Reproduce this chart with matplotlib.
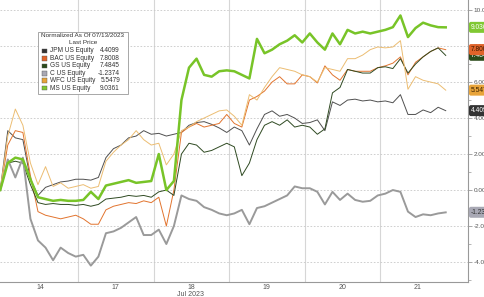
import numpy as np
import matplotlib
matplotlib.use("Agg")
import matplotlib.pyplot as plt
from matplotlib.patches import Rectangle

plt.rcParams["font.family"] = ["Liberation Sans", "DejaVu Sans"]

# normalized intraday moves, 13 Jul - 21 Jul 2023 (6 sessions, 10 samples each)
days = ["14", "17", "18", "19", "20", "21"]
t = np.arange(60) / 10 - 0.03

ms = [0.0, 1.5, 1.8, 1.7, 0.6, -0.4, -0.5, -0.6, -0.55, -0.6,
      -0.6, -0.55, -0.1, -0.5, 0.25, 0.35, 0.45, 0.55, 0.4, 0.45,
      0.5, 2.0, 0.0, 0.5, 5.0, 6.8, 7.3, 6.4, 6.3, 6.6,
      6.65, 6.6, 6.4, 6.2, 8.4, 7.6, 7.8, 8.1, 8.3, 8.6,
      8.2, 8.7, 8.2, 7.8, 8.7, 8.1, 8.9, 8.7, 8.8, 8.7,
      8.8, 8.9, 9.05, 9.7, 8.5, 9.0, 9.3, 9.15, 9.05, 9.04]

c = [0.0, 1.7, 0.7, 1.8, -1.6, -2.8, -3.2, -3.9, -3.2, -3.5,
     -3.7, -3.6, -4.2, -3.7, -2.4, -2.3, -2.1, -1.8, -1.5, -2.5,
     -2.5, -2.2, -3.0, -2.0, -0.3, -0.5, -0.6, -0.95, -1.1, -1.3,
     -1.4, -1.3, -1.1, -1.9, -1.0, -0.9, -0.7, -0.5, -0.3, 0.2,
     0.1, 0.1, -0.1, -0.8, -0.1, -0.55, -0.2, -0.55, -0.65, -0.6,
     -0.3, -0.2, 0.0, -0.1, -1.2, -1.5, -1.35, -1.4, -1.3, -1.24]

jpm = [0.0, 3.3, 2.9, 2.8, 0.6, -0.3, 0.15, 0.3, 0.45, 0.5,
       0.6, 0.6, 0.55, 0.7, 1.8, 2.3, 2.5, 2.9, 3.0, 3.3,
       3.1, 3.15, 3.0, 3.1, 3.2, 3.6, 3.75, 3.8, 3.65, 3.45,
       3.2, 3.5, 3.3, 2.5, 3.4, 4.2, 4.4, 4.1, 4.2, 4.0,
       3.7, 3.75, 3.9, 3.3, 4.9, 4.7, 5.0, 5.05, 4.95, 5.0,
       4.9, 4.95, 4.85, 5.3, 4.2, 4.2, 4.45, 4.3, 4.6, 4.41]

gs = [0.0, 1.5, 1.6, 1.5, 0.3, -0.7, -0.8, -0.75, -0.8, -0.8,
      -0.85, -0.8, -0.9, -0.8, -0.5, -0.45, -0.4, -0.3, -0.35, -0.3,
      -0.4, -0.1, 0.0, -0.3, 2.0, 2.6, 2.5, 2.1, 2.2, 2.4,
      2.6, 2.4, 0.8, 1.5, 2.8, 3.6, 3.8, 3.6, 3.9, 3.5,
      3.6, 3.5, 3.1, 3.4, 5.4, 5.7, 6.7, 6.6, 6.5, 6.5,
      6.8, 6.85, 6.75, 7.3, 6.5, 7.0, 7.4, 7.7, 7.9, 7.48]

bac = [0.0, 2.5, 3.3, 3.2, 0.8, -1.2, -1.4, -1.5, -1.6, -1.5,
       -1.4, -1.6, -1.9, -1.9, -1.1, -0.9, -0.8, -0.7, -0.75, -0.6,
       -0.7, -0.4, -2.0, 0.0, 3.2, 3.5, 3.7, 3.5, 3.6, 3.7,
       4.2, 3.7, 3.5, 5.0, 5.2, 5.5, 6.0, 6.3, 5.9, 5.9,
       6.4, 6.3, 5.95, 6.9, 6.4, 6.1, 6.7, 6.6, 6.6, 6.6,
       6.8, 6.9, 7.05, 7.4, 6.4, 7.1, 7.4, 7.7, 7.9, 7.8]

wfc = [0.0, 3.0, 4.5, 3.6, 1.5, 0.3, 1.3, 0.2, 0.4, 0.1,
       0.2, 0.3, 0.1, 0.2, 1.6, 2.1, 2.5, 2.8, 3.3, 2.8,
       2.5, 2.6, 1.4, 2.0, 3.3, 3.5, 3.8, 4.0, 4.2, 4.4,
       4.45, 4.1, 3.6, 5.3, 5.0, 5.7, 6.3, 6.8, 6.7, 6.6,
       6.4, 6.3, 6.0, 6.8, 6.7, 6.6, 7.3, 7.3, 7.5, 7.8,
       7.95, 7.9, 7.95, 8.3, 5.6, 6.3, 6.1, 6.0, 5.9, 5.55]

names = ["JPM US Equity", "BAC US Equity", "GS US Equity",
         "C US Equity", "WFC US Equity", "MS US Equity"]
last = ["4.4099", "7.8008", "7.4845", "-1.2374", "5.5479", "9.0361"]
tags = ["4.409", "7.800", "7.484", "-1.23", "5.547", "9.036"]
tag_vals = [4.4099, 7.8008, 7.4845, -1.2374, 5.5479, 9.0361]

line_cols = ["#505050", "#e2742e", "#2f4a22", "#9a9a9a", "#ecbd72", "#78c428"]
box_cols = ["#333333", "#e0632a", "#2a4a1a", "#a8a8b4", "#e8a43a", "#80c832"]
tag_text = ["white", "#3a1a00", "white", "#333333", "#3a2000", "white"]
widths = [0.7, 0.7, 0.7, 1.4, 0.7, 1.8]

W, H = 485, 297
fig = plt.figure(figsize=(W / 100, H / 100), dpi=100)
ax = fig.add_axes([0, 15 / H, 468 / W, 282 / H])

# day separators and dashed horizontal grid
for d in range(1, 6):
    ax.axvline(d, color="#d6d6d6", lw=0.8, zorder=0)
for yv in range(-4, 11, 2):
    ax.axhline(yv, color="#c8c8c8", lw=0.6, ls=(0, (2, 2)), zorder=0)

series = [jpm, bac, gs, c, wfc, ms]
order = [4, 1, 0, 2, 3, 5]
for k in order:
    ax.plot(t, series[k], color=line_cols[k], lw=widths[k], zorder=2 + k)

ax.set_xlim(-0.033, 6.165)
ax.set_ylim(-5.11, 10.56)

ax.spines["top"].set_visible(False)
ax.spines["left"].set_visible(False)
ax.spines["right"].set_color("#999999")
ax.spines["bottom"].set_color("#999999")

ax.yaxis.tick_right()
ax.set_yticks(range(-4, 11, 2))
ax.set_yticklabels(["%.2f" % v for v in range(-4, 11, 2)])
ax.set_yticks(range(-5, 11, 2), minor=True)
ax.tick_params(axis="y", which="major", length=3, width=0.6, colors="#999999",
               labelcolor="#555555", labelsize=4.6, pad=1)
ax.tick_params(axis="y", which="minor", length=2, width=0.5, colors="#999999")

ax.set_xticks([d + 0.5 for d in range(6)])
ax.set_xticklabels(days)
ax.tick_params(axis="x", length=0, labelsize=5.0, labelcolor="#555555", pad=1.5)
fig.text(191 / W, 1 - 294 / H, "Jul 2023", fontsize=5.0, color="#555555",
         ha="center", va="center")


def fx(px):
    return px / W


def fy(py):
    return 1 - py / H


# legend box
fig.patches.append(Rectangle((fx(38), fy(94)), 90 / W, 62 / H,
                             transform=fig.transFigure, facecolor="white",
                             edgecolor="#999999", lw=0.6, zorder=10))
fig.text(fx(83), fy(35.5), "Normalized As Of 07/13/2023", fontsize=4.6,
         color="#333333", ha="center", va="center", zorder=11)
fig.text(fx(83), fy(43), "Last Price", fontsize=4.6, color="#333333",
         ha="center", va="center", zorder=11)
for i, nm in enumerate(names):
    yy = 51 + i * 7.4
    fig.patches.append(Rectangle((fx(42.5), fy(yy + 2.3)), 4.5 / W, 4.6 / H,
                                 transform=fig.transFigure,
                                 facecolor=box_cols[i], edgecolor="#555555",
                                 lw=0.3, zorder=11))
    fig.text(fx(50), fy(yy), nm, fontsize=4.7, color="#333333",
             ha="left", va="center", zorder=11)
    fig.text(fx(120), fy(yy), last[i], fontsize=4.7, color="#333333",
             ha="right", va="center", zorder=11)

# last value tags on the right axis
for i in [3, 0, 4, 2, 1, 5]:
    py = 190 - tag_vals[i] * 18
    fig.text(fx(471), fy(py), tags[i], fontsize=4.8, color=tag_text[i],
             ha="left", va="center", zorder=12,
             bbox=dict(boxstyle="round,pad=0.3,rounding_size=0.3",
                       facecolor=box_cols[i], edgecolor="none"))

fig.savefig("out.png", dpi=100)
